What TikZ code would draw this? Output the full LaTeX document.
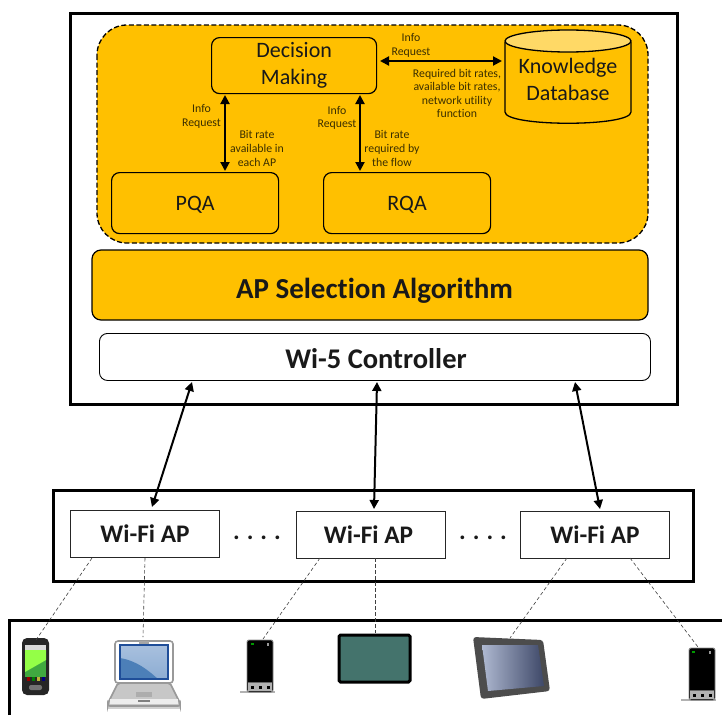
\documentclass[tikz,border=0pt]{standalone}
\usepackage{fontspec}
\setmainfont{Carlito}[RawFeature={-liga}]
\usetikzlibrary{calc,arrows.meta}
\definecolor{gold}{HTML}{FFC000}
\definecolor{goldlt}{HTML}{FFD966}
\definecolor{smalltxt}{HTML}{3A2E00}
\definecolor{teal1}{HTML}{44736C}
\definecolor{scrA}{HTML}{A8C0DE}
\definecolor{scrB}{HTML}{4C7FB8}
\definecolor{scrF}{HTML}{1F4E99}
\definecolor{slA}{HTML}{AEB8D0}
\definecolor{slB}{HTML}{3E4868}
\tikzset{
  x=1pt,y=-1pt,
  outerbox/.style={draw=black,line width=3pt,fill=white},
  inbox/.style={draw=black,line width=1.2pt,rounded corners=8pt,fill=gold},
  apbox/.style={draw=black!85,line width=1.1pt,fill=white,anchor=north west,minimum width=149pt,minimum height=47pt,inner sep=0pt,font=\fontsize{25.3}{30}\bfseries\selectfont,text=black!90},
  big/.style={font=\fontsize{22}{26}\selectfont,align=center,text=black!90},
  small/.style={font=\fontsize{11.8}{13.6}\selectfont,align=center,text=smalltxt},
  dbl/.style={{Triangle[length=9pt,width=9pt]}-{Triangle[length=9pt,width=9pt]},line width=2pt,black},
  dashlink/.style={draw=black!75,line width=.6pt,dash pattern=on 3.5pt off 2.5pt},
  ghost/.style={inner sep=0pt,outer sep=0pt,minimum width=0pt,minimum height=0pt},
}
\begin{document}
\begin{tikzpicture}
\useasboundingbox (0,0) rectangle (722,715);
\fill[white] (0,0) rectangle (722,715);
% frames
\draw[outerbox] (70,13) rectangle (677,404);
\draw[outerbox] (53,490) rectangle (693,581);
\draw[black,line width=3pt] (9,715) -- (9,620) -- (722,620);
% orange panels
\draw[fill=gold,draw=black,line width=1.3pt,dash pattern=on 5pt off 2.5pt,rounded corners=30pt] (97,25) rectangle (648,243);
\node[inbox,anchor=north west,minimum width=165pt,minimum height=56pt,inner sep=0pt,big] (dm) at (211,37) {Decision\\[1pt]Making};
\node[inbox,anchor=north west,minimum width=167pt,minimum height=61pt,inner sep=0pt,big,text depth=0pt] (pqa) at (111,172) {PQA};
\node[inbox,anchor=north west,minimum width=167pt,minimum height=61pt,inner sep=0pt,big,text depth=0pt] (rqa) at (323,172) {RQA};
% cylinder
\draw[fill=gold,draw=black,line width=1.3pt] (505,42) -- (505,112) .. controls (505,127) and (631,127) .. (631,112) -- (631,42);
\draw[fill=goldlt,draw=black,line width=1.3pt] (568,41) ellipse[x radius=63pt,y radius=11pt];
\node[big,ghost,minimum width=126pt,minimum height=60pt] (kd) at (568,79) {Knowledge\\[1pt]Database};
\fill[gold,rounded corners=9pt] (92,250) rectangle (648,320);
\draw[black,line width=1.2pt,rounded corners=9pt] (92,250) rectangle (648,320);
\node[font=\fontsize{29}{34}\bfseries\selectfont,text=black!90] (apseltxt) at (374.5,291) {AP Selection Algorithm};
\node[draw=black,line width=.9pt,fill=white,rounded corners=8pt,anchor=north west,minimum width=551pt,minimum height=47pt,inner sep=0pt] (ctrl) at (99,333) {};
\node[font=\fontsize{28.5}{34}\bfseries\selectfont,text=black!90] (ctrltxt) at (376,359) {Wi-5 Controller};
% AP boxes
\node[apbox] (ap1) at (70,510) {\raisebox{-1.2pt}{Wi-Fi AP}};
\node[apbox] (ap2) at (296,511) {\hspace{-5pt}\raisebox{1pt}{Wi-Fi AP}};
\node[apbox] (ap3) at (520,511) {Wi-Fi AP};
\node[font=\fontsize{25}{28}\bfseries\selectfont,black!90] (d1) at (257,538) {.\hspace{7pt}.\hspace{7pt}.\hspace{7pt}.};
\node[font=\fontsize{25}{28}\bfseries\selectfont,black!90] (d2) at (483,538) {.\hspace{7pt}.\hspace{7pt}.\hspace{7pt}.};
% small labels
\node[small] (l1) at (201.5,116.5) {Info\\Request};
\node[small] (l2) at (257,148.5) {Bit rate\\available in\\each AP};
\node[small] (l3) at (337,118) {Info\\Request};
\node[small] (l4) at (392,148.5) {Bit rate\\required by\\the flow};
\node[small] (l5) at (411,45.5) {Info\\Request};
\node[small] (l6) at (457,93.5) {Required bit rates,\\available bit rates,\\network utility\\function};
% internal arrows
\coordinate (a1t) at (225,95); \coordinate (a1b) at (225,171);
\coordinate (a2t) at (360,95); \coordinate (a2b) at (360,171);
\coordinate (a3l) at (380,61); \coordinate (a3r) at (502,61);
\draw[dbl] (a1t) -- (a1b);
\draw[dbl] (a2t) -- (a2b);
\draw[dbl] (a3l) -- (a3r);
% controller to APs
\coordinate (c1) at (192,382); \coordinate (p1) at (152,507);
\coordinate (c2) at (377,382); \coordinate (p2) at (374,509);
\coordinate (c3) at (575,382); \coordinate (p3) at (600,509);
\draw[dbl] (c1) -- (p1);
\draw[dbl] (c2) -- (p2);
\draw[dbl] (c3) -- (p3);
% phone 1
\node[ghost] (ph1) at (36,640) {};
\fill[black!85,rounded corners=5pt] (22,638) rectangle (49,695);
\fill[black!15] (25,645) rectangle (46,650);
\fill[green!55!black!75!white] (25,650) rectangle (46,677);
\fill[green!60!white!70!yellow] (25,650) -- (46,650) -- (46,660) -- (25,672) -- cycle;
\foreach \xx/\cc in {27/red!60!black,32/green!50!black,37/yellow!70!black,42/blue!50!black} \fill[\cc] (\xx,677) rectangle (\xx+3,681);
\fill[black!55,rounded corners=2pt] (29,685) rectangle (42,690);
% laptop
\node[ghost] (lap) at (143,637) {};
\fill[black!18] (108,706) rectangle (180,709);
\draw[fill=white,draw=black!40,line width=1.6pt,rounded corners=3pt] (115,641) rectangle (173,683);
\draw[fill=black!22,draw=black!40,line width=1.6pt,rounded corners=2pt] (118,683) -- (170,683) -- (180,703) -- (180,706) -- (108,706) -- (108,703) -- cycle;
\fill[black!7] (110,699) rectangle (178,704);
\fill[black!32] (136,692) rectangle (152,697);
\fill[black!50] (138,700) rectangle (150,702);
\fill[black!35] (139,641) rectangle (149,644);
\shade[top color=scrA,bottom color=scrA!70!scrB] (120,645) rectangle (168,679);
\fill[scrB] (120,658) .. controls (138,661) and (150,672) .. (158,679) -- (120,679) -- cycle;
\draw[draw=scrF,line width=1.1pt] (120,645) rectangle (168,679);
% phone 2
\node[ghost] (ph2) at (263,639) {};
\fill[black!30] (240,691) rectangle (275,693);
\draw[fill=black,draw=black!45,line width=.9pt,rounded corners=2pt] (247,640) rectangle (273,692);
\fill[black!60] (248,682) rectangle (272,683);
\fill[black!30] (248,683) rectangle (272,691);
\fill[green!60!black] (251,643) rectangle (254,645);
\fill[black!40] (267,643) rectangle (269,646);
\foreach \xx in {252,260,268} \fill[black] (\xx-1.5,685.5) rectangle (\xx+1.5,688.5);
% dark tablet
\node[ghost] (tb1) at (375,633) {};
\draw[fill=teal1,draw=black,line width=3pt,rounded corners=1.5pt] (339,635) rectangle (410,682);
% slate tablet
\node[ghost] (tb2) at (510,638) {};
\fill[black!70,rounded corners=3pt] (473,637) -- (543,640) -- (550,691) -- (481,699) -- cycle;
\shade[left color=slA,right color=slB] (482,645) -- (538,645) -- (544,686) -- (488,691) -- cycle;
% phone 3
\node[ghost] (ph3) at (698,647) {};
\fill[black!30] (681,699) rectangle (716,701);
\draw[fill=black,draw=black!45,line width=.9pt,rounded corners=2pt] (689,648) rectangle (715,700);
\fill[black!60] (690,690) rectangle (714,691);
\fill[black!30] (690,691) rectangle (714,699);
\fill[green!60!black] (692,651) rectangle (695,653);
\fill[black!40] (709,651) rectangle (711,654);
\foreach \xx in {694,702,710} \fill[black] (\xx-1.5,693.5) rectangle (\xx+1.5,696.5);
% dashed links
\coordinate (s1) at (92,558); \coordinate (s2) at (145,558);
\coordinate (s3) at (320,558); \coordinate (s4) at (375,558);
\coordinate (s5) at (567,558); \coordinate (s6) at (630,558);
\draw[dashlink] (s1) -- (ph1);
\draw[dashlink] (s2) -- (lap);
\draw[dashlink] (s3) -- (ph2);
\draw[dashlink] (s4) -- (tb1);
\draw[dashlink] (s5) -- (tb2);
\draw[dashlink] (s6) -- (ph3);
\end{tikzpicture}
\end{document}
